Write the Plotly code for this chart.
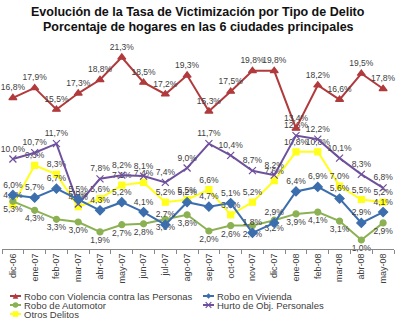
import plotly.graph_objects as go

# Months of the survey
months = ["dic-06", "ene-07", "feb-07", "mar-07", "abr-07", "may-07", "jun-07",
          "jul-07", "ago-07", "sep-07", "oct-07", "nov-07", "dic-07", "ene-08",
          "feb-08", "mar-08", "abr-08", "may-08"]

# Victimisation rate per crime type (% of households)
robo_violencia = [16.8, 17.9, 15.5, 17.3, 18.8, 21.3, 18.5, 17.2, 19.3, 15.3,
                  17.5, 19.8, 19.8, 13.4, 18.2, 16.6, 19.5, 17.8]
robo_vivienda = [6.0, 5.7, 6.7, 5.5, 4.3, 5.2, 4.1, 2.7, 5.2, 4.7,
                 5.1, 1.8, 2.9, 6.4, 6.9, 5.6, 2.9, 4.1]
robo_automotor = [5.3, 4.3, 3.3, 3.0, 1.9, 2.7, 2.8, 3.3, 3.8, 2.0,
                  2.6, 2.6, 3.2, 3.9, 4.1, 3.1, 1.0, 2.9]
hurto_objetos = [10.0, 10.7, 11.7, 5.0, 7.8, 8.2, 8.1, 7.4, 9.0, 11.7,
                 10.4, 8.7, 8.2, 12.6, 12.2, 10.1, 8.3, 6.8]
otros_delitos = [4.9, 9.3, 8.3, 4.7, 5.6, 7.1, 7.4, 5.2, 5.5, 6.6,
                 3.8, 5.2, 7.6, 10.8, 10.8, 7.0, 5.5, 5.2]

series_names = ["Robo con Violencia contra las Personas", "Robo en Vivienda",
                "Robo de Automotor", "Hurto de Obj. Personales", "Otros Delitos"]
series_values = [robo_violencia, robo_vivienda, robo_automotor, hurto_objetos, otros_delitos]
series_colors = ["#B03A3C", "#3C6EAE", "#8CB153", "#6E509D", "#FFFF1A"]
series_symbols = ["triangle-up", "diamond", "circle", "x-thin", "square"]
series_sizes = [7, 7, 6, 7, 6]
label_positions = ["top center", "top center", "bottom center", "top center", "top center"]

title_lines = ["Evolución de la Tasa de Victimización por Tipo de Delito",
               "Porcentaje de hogares en las 6 ciudades principales"]

FONT = "Liberation Sans, Arial, sans-serif"

# plot-area geometry in pixels
W, H = 400, 323
L, R, T, B = 2, 6, 51, 74
PW, PH = W - L - R, H - T - B


def px_x(px):
    return (px - L) / PW


def px_y(py):
    return (H - B - py) / PH


def pct(v):
    return f"{v:.1f}%".replace(".", ",")


fig = go.Figure()
# yellow first, red last so the red series sits on top
draw_order = [4, 3, 2, 1, 0]
for i in draw_order:
    vals = series_values[i]
    fig.add_trace(go.Scatter(
        x=months, y=vals, mode="lines+markers+text",
        name=series_names[i],
        line=dict(color=series_colors[i], width=2),
        marker=dict(symbol=series_symbols[i], size=series_sizes[i],
                    color=series_colors[i],
                    line=dict(color=series_colors[i], width=1.2)),
        text=[pct(v) for v in vals], textposition=label_positions[i],
        textfont=dict(family=FONT, size=8.5, color="#404040"),
        cliponaxis=False, showlegend=False,
    ))

# legend drawn as two columns of short line keys
legend_slots = [(10, 296), (203, 296), (10, 305), (203, 305), (10, 314)]
shapes = []
annotations = []
for i, (x0, yc) in enumerate(legend_slots):
    c = series_colors[i]
    shapes.append(dict(type="line", xref="paper", yref="paper",
                       x0=px_x(x0), x1=px_x(x0 + 11), y0=px_y(yc), y1=px_y(yc),
                       line=dict(color=c, width=2)))
    cx, cy, s = x0 + 5.5, yc, 2.8
    sym = series_symbols[i]
    if sym == "circle":
        shapes.append(dict(type="circle", xref="paper", yref="paper",
                           x0=px_x(cx - s), x1=px_x(cx + s), y0=px_y(cy - s), y1=px_y(cy + s),
                           fillcolor=c, line=dict(color=c, width=0)))
    elif sym == "square":
        shapes.append(dict(type="rect", xref="paper", yref="paper",
                           x0=px_x(cx - s), x1=px_x(cx + s), y0=px_y(cy - s), y1=px_y(cy + s),
                           fillcolor=c, line=dict(color=c, width=0)))
    else:
        if sym == "triangle-up":
            pts = [(cx - s, cy + s), (cx + s, cy + s), (cx, cy - s)]
        elif sym == "diamond":
            pts = [(cx - s, cy), (cx, cy - s), (cx + s, cy), (cx, cy + s)]
        else:
            pts = None
        if pts:
            path = "M " + " L ".join(f"{px_x(a)},{px_y(b)}" for a, b in pts) + " Z"
            shapes.append(dict(type="path", xref="paper", yref="paper", path=path,
                               fillcolor=c, line=dict(color=c, width=0)))
        else:
            for (a0, b0, a1, b1) in [(cx - s, cy - s, cx + s, cy + s), (cx - s, cy + s, cx + s, cy - s)]:
                shapes.append(dict(type="line", xref="paper", yref="paper",
                                   x0=px_x(a0), x1=px_x(a1), y0=px_y(b0), y1=px_y(b1),
                                   line=dict(color=c, width=1.2)))
    annotations.append(dict(text=series_names[i], xref="paper", yref="paper",
                            x=px_x(x0 + 12), y=px_y(yc), xanchor="left", yanchor="middle",
                            showarrow=False,
                            font=dict(family=FONT, size=9.5, color="#404040")))

# two-line bold heading
for line, yc in zip(title_lines, [12, 27]):
    annotations.append(dict(text=f"<b>{line}</b>", xref="paper", yref="paper",
                            x=px_x(198), y=px_y(yc), xanchor="center", yanchor="middle",
                            showarrow=False,
                            font=dict(family=FONT, size=12.5, color="#111111")))

fig.update_layout(
    width=W, height=H,
    margin=dict(l=L, r=R, t=T, b=B),
    paper_bgcolor="white", plot_bgcolor="white",
    xaxis=dict(type="category", range=[-0.5, len(months) - 0.5],
               showline=True, linecolor="#888888", linewidth=1,
               ticks="outside", tickson="boundaries", ticklen=4, tickcolor="#888888",
               tickangle=-90, showgrid=False, zeroline=False,
               tickfont=dict(family=FONT, size=9, color="#404040")),
    yaxis=dict(range=[0, 22], visible=False, showgrid=False, zeroline=False),
    shapes=shapes, annotations=annotations,
    showlegend=False,
)

fig.write_html("out.html")
